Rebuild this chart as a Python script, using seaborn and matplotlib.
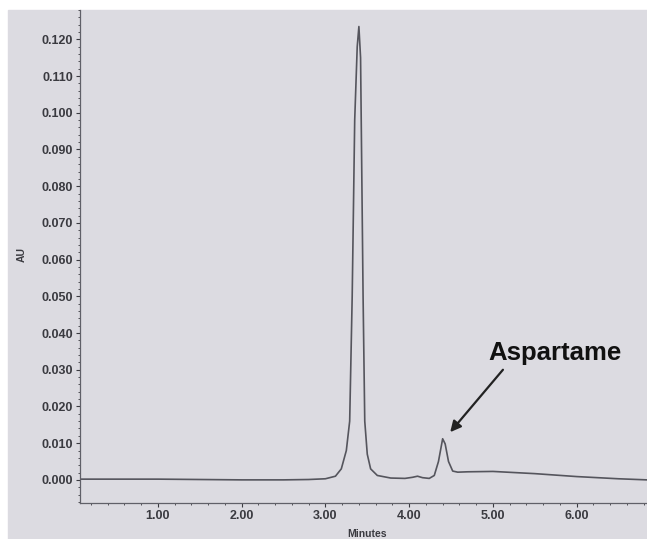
import numpy as np
import matplotlib
matplotlib.use("Agg")
import matplotlib.pyplot as plt
import seaborn as sns
from matplotlib.ticker import MultipleLocator, FormatStrFormatter

# retention time (min) and absorbance (AU)
t = [0.07, 0.5, 1.0, 1.5, 2.0, 2.5, 2.8, 3.0, 3.12, 3.19, 3.25, 3.29, 3.32,
     3.35, 3.38, 3.40, 3.42, 3.45, 3.47, 3.50, 3.54, 3.62, 3.78, 3.95, 4.04,
     4.1, 4.16, 4.24, 4.3, 4.35, 4.40, 4.43, 4.47, 4.52, 4.58, 4.7, 5.0, 5.5,
     6.0, 6.5, 6.84]
au = [0.0002, 0.0002, 0.0002, 0.0001, 0.0, 0.0, 0.0001, 0.0003, 0.001, 0.003,
      0.008, 0.016, 0.05, 0.098, 0.118, 0.1235, 0.115, 0.05, 0.016, 0.007,
      0.003, 0.0012, 0.0005, 0.0004, 0.0007, 0.0010, 0.0006, 0.0004, 0.0012,
      0.005, 0.0112, 0.0098, 0.005, 0.0024, 0.0021, 0.0022, 0.0023, 0.0017,
      0.0009, 0.0003, 0.0]

y_ticks = np.arange(0.0, 0.121, 0.010)
x_ticks = [1.0, 2.0, 3.0, 4.0, 5.0, 6.0]
x_cut_tick = 7.0  # last label, partly off the page in the scan

peak_name = "Aspartame"
peak_tip = (4.49, 0.0130)
arrow_start = (5.12, 0.0300)
label_pos = (4.94, 0.0346)

bg = "#dcdbe1"
ink = "#3a3a40"

sns.set_theme(style="ticks")
plt.rcParams["font.family"] = ["Liberation Sans", "DejaVu Sans"]

fig = plt.figure(figsize=(6.47, 5.39), dpi=100, facecolor="white")
fig.patches.append(plt.Rectangle((8 / 647, 0), 1, 529 / 539,
                                 transform=fig.transFigure, color=bg,
                                 zorder=-5))
ax = fig.add_axes([80 / 647, 36 / 539, 1 - 80 / 647, 493 / 539])
ax.set_facecolor(bg)

sns.lineplot(x=t, y=au, sort=False, estimator=None, color="#55555d",
             linewidth=1.2, ax=ax)

ax.set_xticks(x_ticks)
ax.set_yticks(y_ticks)
ax.set_xlim(0.07, 6.84)
ax.set_ylim(-0.0063, 0.128)
ax.xaxis.set_major_formatter(FormatStrFormatter("%.2f"))
ax.yaxis.set_major_formatter(FormatStrFormatter("%.3f"))
ax.xaxis.set_minor_locator(MultipleLocator(0.2))
ax.yaxis.set_minor_locator(MultipleLocator(0.002))
ax.tick_params(axis="both", which="major", labelsize=9, colors=ink,
               length=3, width=0.8, pad=2)
ax.tick_params(axis="both", which="minor", length=1.5, width=0.6, colors=ink)
for lab in ax.get_xticklabels() + ax.get_yticklabels():
    lab.set_fontweight("bold")

# tick label beyond the right edge, drawn by hand so it is cut like the scan
ax.text(x_cut_tick, -0.0063, f"{x_cut_tick:.2f}", ha="center", va="top",
        transform=ax.transData, clip_on=False, fontsize=9,
        fontweight="bold", color=ink).set_y(-0.0063 - 0.0015)

for side in ["top", "right"]:
    ax.spines[side].set_visible(False)
for side in ["left", "bottom"]:
    ax.spines[side].set_color("#606068")
    ax.spines[side].set_linewidth(0.9)

ax.set_xlabel("")
ax.set_ylabel("")
fig.text(22 / 647, 1 - 255 / 539, "AU", rotation=90, ha="center", va="center",
         fontsize=7.5, fontweight="bold", color=ink)
fig.text(367 / 647, 10 / 539, "Minutes", ha="center", va="top",
         fontsize=7.5, fontweight="bold", color=ink)

ax.text(label_pos[0], label_pos[1], peak_name, ha="left", va="center",
        fontsize=18.5, fontweight="bold", color="#111111")
ax.annotate("", xy=peak_tip, xytext=arrow_start,
            arrowprops=dict(arrowstyle="-|>", color="#222222", lw=1.6,
                            mutation_scale=16, shrinkA=0, shrinkB=0))

fig.savefig("out.png", dpi=100, facecolor=fig.get_facecolor())
